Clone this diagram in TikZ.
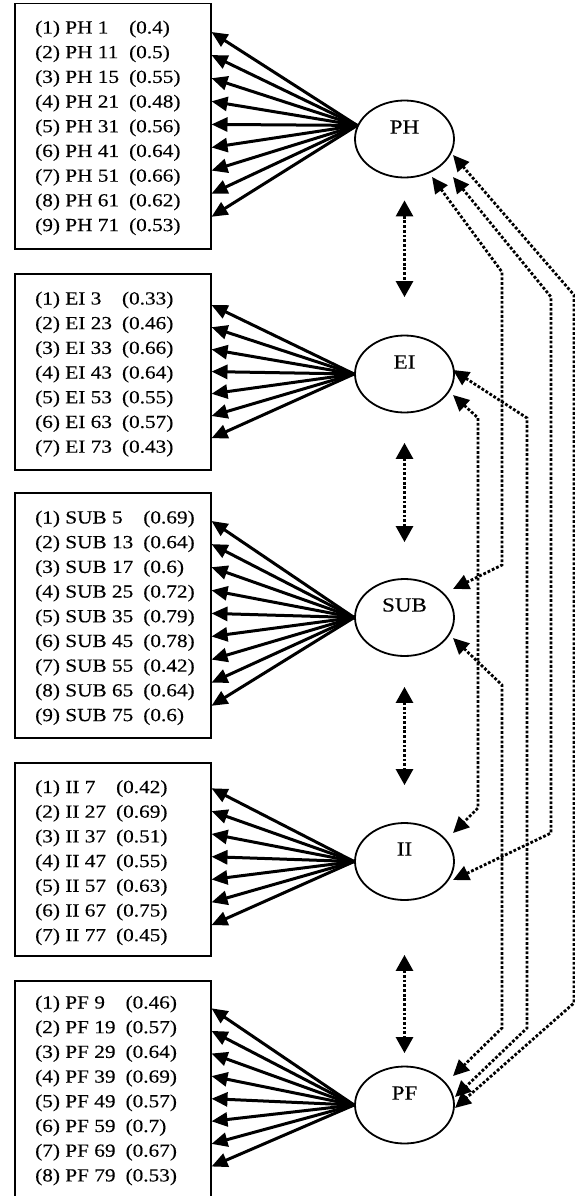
\documentclass[tikz,border=0pt]{standalone}
\usepackage{fontspec}
\setmainfont{Liberation Serif}[FakeStretch=1.15,FakeBold=0.3]
\usetikzlibrary{arrows.meta,calc,shapes.geometric}

\tikzset{
  itembox/.style={draw, line width=1.5pt, anchor=north west, minimum width=196pt, inner sep=0pt},
  latent/.style={draw, ellipse, line width=1.8pt, minimum width=99pt, minimum height=77pt, inner sep=0pt},
  lab/.style={inner sep=0pt, font=\fontsize{20}{24}\selectfont},
  items/.style={anchor=base west, inner sep=0pt, font=\fontsize{18.5}{24.7}\selectfont},
  load/.style={line width=3pt, -{Triangle[length=16pt,width=14pt]}},
  dots/.style={line width=2.8pt, dash pattern=on 2.8pt off 1.9pt},
  cov/.style={dots, {Triangle[length=16pt,width=15pt]}-{Triangle[length=16pt,width=15pt]}},
  corr/.style={dots, {Triangle[length=16pt,width=17pt]}-{Triangle[length=16pt,width=17pt]}},
}

\newcommand{\itemtab}[1]{\begin{tabular}[t]{@{}l@{\hspace{10pt}}l@{}}#1\end{tabular}}

\begin{document}
\begin{tikzpicture}[x=1pt,y=-1pt]
\useasboundingbox (0,0) rectangle (575,1196);

% indicator boxes
\node[itembox, minimum height=245pt] (PHbox)  at (14,3)   {};
\node[itembox, minimum height=196pt] (EIbox)  at (14,273) {};
\node[itembox, minimum height=245pt] (SUBbox) at (14,492) {};
\node[itembox, minimum height=193pt] (IIbox)  at (14,762) {};
\node[itembox, minimum height=218pt] (PFbox)  at (14,980) {};

\node[items] (PHtxt) at (35,33.5) {\itemtab{%
(1) PH 1 & (0.4)\\ (2) PH 11 & (0.5)\\ (3) PH 15 & (0.55)\\
(4) PH 21 & (0.48)\\ (5) PH 31 & (0.56)\\ (6) PH 41 & (0.64)\\
(7) PH 51 & (0.66)\\ (8) PH 61 & (0.62)\\ (9) PH 71 & (0.53)}};

\node[items] (EItxt) at (35,304.5) {\itemtab{%
(1) EI 3 & (0.33)\\ (2) EI 23 & (0.46)\\ (3) EI 33 & (0.66)\\
(4) EI 43 & (0.64)\\ (5) EI 53 & (0.55)\\ (6) EI 63 & (0.57)\\
(7) EI 73 & (0.43)}};

\node[items] (SUBtxt) at (35,523.5) {\itemtab{%
(1) SUB 5 & (0.69)\\ (2) SUB 13 & (0.64)\\ (3) SUB 17 & (0.6)\\
(4) SUB 25 & (0.72)\\ (5) SUB 35 & (0.79)\\ (6) SUB 45 & (0.78)\\
(7) SUB 55 & (0.42)\\ (8) SUB 65 & (0.64)\\ (9) SUB 75 & (0.6)}};

\node[items] (IItxt) at (35,793) {\itemtab{%
(1) II 7 & (0.42)\\ (2) II 27 & (0.69)\\ (3) II 37 & (0.51)\\
(4) II 47 & (0.55)\\ (5) II 57 & (0.63)\\ (6) II 67 & (0.75)\\
(7) II 77 & (0.45)}};

\node[items] (PFtxt) at (35,1008.5) {\itemtab{%
(1) PF 9 & (0.46)\\ (2) PF 19 & (0.57)\\ (3) PF 29 & (0.64)\\
(4) PF 39 & (0.69)\\ (5) PF 49 & (0.57)\\ (6) PF 59 & (0.7)\\
(7) PF 69 & (0.67)\\ (8) PF 79 & (0.53)}};

% latent factors
\node[latent] (PH)  at (404.5,139)   {};
\node[latent] (EI)  at (404.5,374)   {};
\node[latent] (SUB) at (404.5,617.5) {};
\node[latent] (II)  at (404.5,861.5) {};
\node[latent] (PF)  at (404.5,1105)  {};

\node[lab] (PHt)  at (404.5,127)   {PH};
\node[lab] (EIt)  at (404.5,362)   {EI};
\node[lab] (SUBt) at (404.5,605)   {SUB};
\node[lab] (IIt)  at (404.5,849)   {II};
\node[lab] (PFt)  at (404.5,1093)  {PF};

% loadings
\coordinate (PHsrc)  at (PH.164);
\coordinate (EIsrc)  at (EI.west);
\coordinate (SUBsrc) at (SUB.west);
\coordinate (IIsrc)  at (II.west);
\coordinate (PFsrc)  at (PF.west);

\foreach \i in {0,...,8}
  \draw[load] (PHsrc) -- ($(PHbox.north east)+(0,{29+23.1*\i})$);
\foreach \i in {0,...,6}
  \draw[load] (EIsrc) -- ($(EIbox.north east)+(0,{32+22.2*\i})$);
\foreach \i in {0,...,8}
  \draw[load] (SUBsrc) -- ($(SUBbox.north east)+(0,{29+23.1*\i})$);
\foreach \i in {0,...,6}
  \draw[load] (IIsrc) -- ($(IIbox.north east)+(0,{26.3+22.8*\i})$);
\foreach \i in {0,...,7}
  \draw[load] (PFsrc) -- ($(PFbox.north east)+(0,{28.3+22.6*\i})$);

% correlations between neighbouring factors
\draw[corr, shorten <=22pt, shorten >=37.5pt] (PH.south)  -- (EI.north);
\draw[corr, shorten <=29.5pt, shorten >=36pt] (EI.south)  -- (SUB.north);
\draw[corr, shorten <=30pt, shorten >=37pt]   (SUB.south) -- (II.north);
\draw[corr, shorten <=54pt, shorten >=12.5pt] (II.south)  -- (PF.north);

% ends of the long correlation paths
\coordinate (PHa)  at (432,177);
\coordinate (PHb)  at (453,177);
\coordinate (PHc)  at (453,155);
\coordinate (EId)  at (453,370);
\coordinate (EIe)  at (453,395);
\coordinate (SUBa) at (453,589);
\coordinate (SUBf) at (453,638);
\coordinate (IIe)  at (453,833);
\coordinate (IIb)  at (453,880);
\coordinate (PFf)  at (453,1076);
\coordinate (PFd)  at (455,1097);
\coordinate (PFc)  at (455,1108);

\draw[cov] (PHa)  -- (502,272) -- (502,565)  -- (SUBa);
\draw[cov] (PHb)  -- (551,297) -- (551,833)  -- (IIb);
\draw[cov] (PHc)  -- (574,295) -- (574,1003) -- (PFc);
\draw[cov] (EId)  -- (527,418) -- (527,1028) -- (PFd);
\draw[cov] (EIe)  -- (478,418) -- (478,808)  -- (IIe);
\draw[cov] (SUBf) -- (502,685) -- (502,1028) -- (PFf);
\end{tikzpicture}
\end{document}
